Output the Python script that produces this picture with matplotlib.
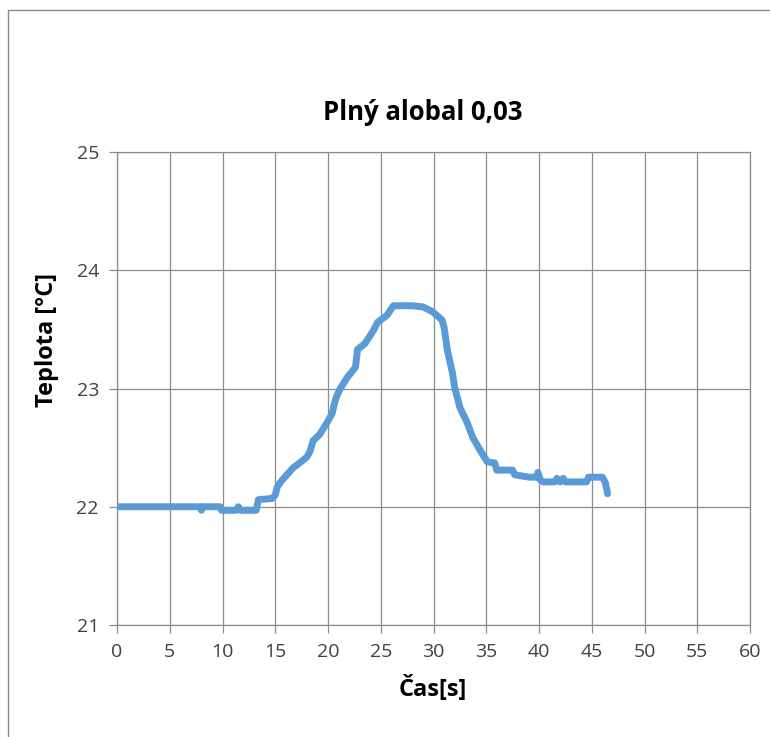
import matplotlib
matplotlib.use("Agg")
import matplotlib.pyplot as plt
from matplotlib.lines import Line2D

# Measured temperature over time
cas_s = [0.0, 2.0, 4.0, 6.0, 7.9, 8.0, 8.1, 9.8, 9.9, 11.3, 11.5, 11.7,
         13.2, 13.4, 14.7, 15.0, 15.2, 15.6, 16.1, 16.7, 17.3, 18.0, 18.3,
         18.6, 19.2, 19.9, 20.4, 20.6, 20.8, 21.1, 21.8, 22.6, 22.8, 23.5,
         24.3, 24.7, 25.6, 26.2, 27.0, 28.0, 29.0, 29.9, 30.8, 31.0, 31.3,
         31.8, 32.0, 32.5, 33.2, 33.7, 34.4, 35.1, 35.8, 36.0, 37.5, 37.7,
         39.1, 39.8, 39.9, 40.1, 40.4, 41.5, 41.7, 42.0, 42.3, 42.5, 44.5,
         44.7, 46.0, 46.2, 46.3, 46.5]
teplota_c = [22.0, 22.0, 22.0, 22.0, 22.0, 21.97, 22.0, 22.0, 21.97, 21.97,
             22.0, 21.97, 21.97, 22.06, 22.07, 22.1, 22.17, 22.22, 22.27,
             22.33, 22.37, 22.42, 22.47, 22.56, 22.61, 22.71, 22.79, 22.87,
             22.93, 22.99, 23.09, 23.18, 23.33, 23.38, 23.49, 23.56, 23.62,
             23.70, 23.70, 23.70, 23.69, 23.65, 23.58, 23.52, 23.33, 23.13,
             23.01, 22.84, 22.71, 22.59, 22.48, 22.38, 22.37, 22.31, 22.31,
             22.27, 22.25, 22.25, 22.29, 22.23, 22.21, 22.21, 22.24, 22.21,
             22.24, 22.21, 22.21, 22.25, 22.25, 22.22, 22.2, 22.11]

title = "Plný alobal 0,03"
x_label = "Čas[s]"
y_label = "Teplota [°C]"
x_ticks = list(range(0, 61, 5))
y_ticks = [21, 22, 23, 24, 25]

plt.rcParams['font.family'] = ['Open Sans', 'DejaVu Sans']

W, H = 770, 737
fig = plt.figure(figsize=(W / 100, H / 100), dpi=100)
fig.patch.set_facecolor("white")

# chart area border (left and top edges)
bx, by = 8 / W, 1 - 10 / H
fig.add_artist(Line2D([bx, bx, 1.0], [0.0, by, by], transform=fig.transFigure,
                      color="#8a8a8a", lw=1.0))

L, R, T, B = 117, 750, 152, 625
ax = fig.add_axes([L / W, 1 - B / H, (R - L) / W, (B - T) / H])

ax.plot(cas_s, teplota_c, color="#5B9BD5", lw=5.0,
        solid_capstyle="round", solid_joinstyle="round", zorder=3)

ax.set_xlim(0, 60)
ax.set_ylim(21, 25)
ax.set_xticks(x_ticks)
ax.set_yticks(y_ticks)
ax.grid(True, color="#8c8c8c", lw=0.9)
ax.set_axisbelow(True)
for s in ax.spines.values():
    s.set_color("#8c8c8c")
    s.set_linewidth(0.9)
ax.tick_params(axis="both", colors="#8c8c8c", labelcolor="#404040",
               labelsize=14, length=6, width=0.9)
ax.tick_params(axis="y", pad=7)
ax.tick_params(axis="x", pad=7)

fig.text(423 / W, 1 - 112 / H, title, ha="center", va="center",
         fontsize=18.5, fontweight="bold", color="black")
fig.text(433 / W, 1 - 689 / H, x_label, ha="center", va="center",
         fontsize=17, fontweight="bold", color="black")
fig.text(47 / W, 1 - 340 / H, y_label, ha="center", va="center",
         rotation=90, fontsize=17, fontweight="bold", color="black")

fig.savefig("out.png", dpi=100)
